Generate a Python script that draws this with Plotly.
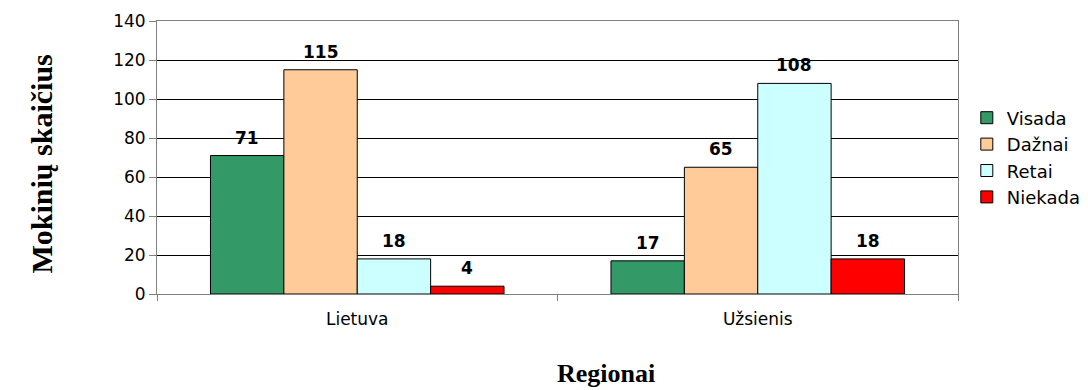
import plotly.graph_objects as go

categories = ["Lietuva", "Užsienis"]
series_names = ["Visada", "Dažnai", "Retai", "Niekada"]
visada = [71, 17]
daznai = [115, 65]
retai = [18, 108]
niekada = [4, 18]
series_values = [visada, daznai, retai, niekada]
colors = ["#339966", "#FFCC99", "#CCFFFF", "#FF0000"]
y_ticks = [0, 20, 40, 60, 80, 100, 120, 140]

BARGAP = 0.267
sans = "DejaVu Sans, Arial, sans-serif"
serif = "Liberation Serif, Times New Roman, serif"

fig = go.Figure()
for name, vals, col in zip(series_names, series_values, colors):
    fig.add_trace(go.Bar(
        name=name, x=categories, y=vals,
        marker=dict(color=col, line=dict(color="#000000", width=1)),
        legendgroup=name,
    ))

# data labels above bars
n = len(series_names)
w = (1 - BARGAP) / n
annotations = []
for k, vals in enumerate(series_values):
    for i, v in enumerate(vals):
        annotations.append(dict(
            x=i + (k - (n - 1) / 2) * w, y=v, xref="x", yref="y",
            text=f"<b>{v}</b>", showarrow=False, yanchor="middle", yshift=18,
            font=dict(family=sans, size=17, color="#000000"),
        ))

annotations.append(dict(
    x=0.5, y=0, xref="paper", yref="paper", yshift=-79, xshift=48, yanchor="middle",
    text="<b>Regionai</b>", showarrow=False,
    font=dict(family=serif, size=26, color="#000000"),
))
annotations.append(dict(
    x=0, y=0.5, xref="paper", yref="paper", xshift=-116, yshift=-7, xanchor="center",
    text="<b>Mokinių skaičius</b>", showarrow=False, textangle=-90,
    font=dict(family=serif, size=30, color="#000000"),
))

fig.update_layout(
    width=1088, height=390,
    margin=dict(l=157, r=130, t=21, b=96, autoexpand=False),
    paper_bgcolor="white", plot_bgcolor="white",
    barmode="group", bargap=BARGAP, bargroupgap=0,
    font=dict(family=sans, size=17, color="#000000"),
    showlegend=True,
    legend=dict(x=1.011, y=0.5, xanchor="left", yanchor="middle",
                font=dict(family=sans, size=18, color="#000000"),
                tracegroupgap=4, traceorder="normal", bgcolor="rgba(0,0,0,0)"),
    annotations=annotations,
)
fig.update_xaxes(
    type="category", showgrid=False, showline=True, linecolor="#808080", linewidth=1,
    mirror=True, ticks="outside", ticklen=6, tickcolor="#808080", tickson="boundaries",
    ticklabelstandoff=10, tickfont=dict(family=sans, size=17, color="#000000"),
)
fig.update_yaxes(
    range=[0, 140], tickvals=y_ticks, showgrid=True, gridcolor="#000000", gridwidth=1,
    showline=True, linecolor="#808080", linewidth=1, mirror=True, zeroline=False,
    ticks="outside", ticklen=7, tickcolor="#808080",
    tickfont=dict(family=sans, size=17, color="#000000"),
)

fig.write_html("out.html")
